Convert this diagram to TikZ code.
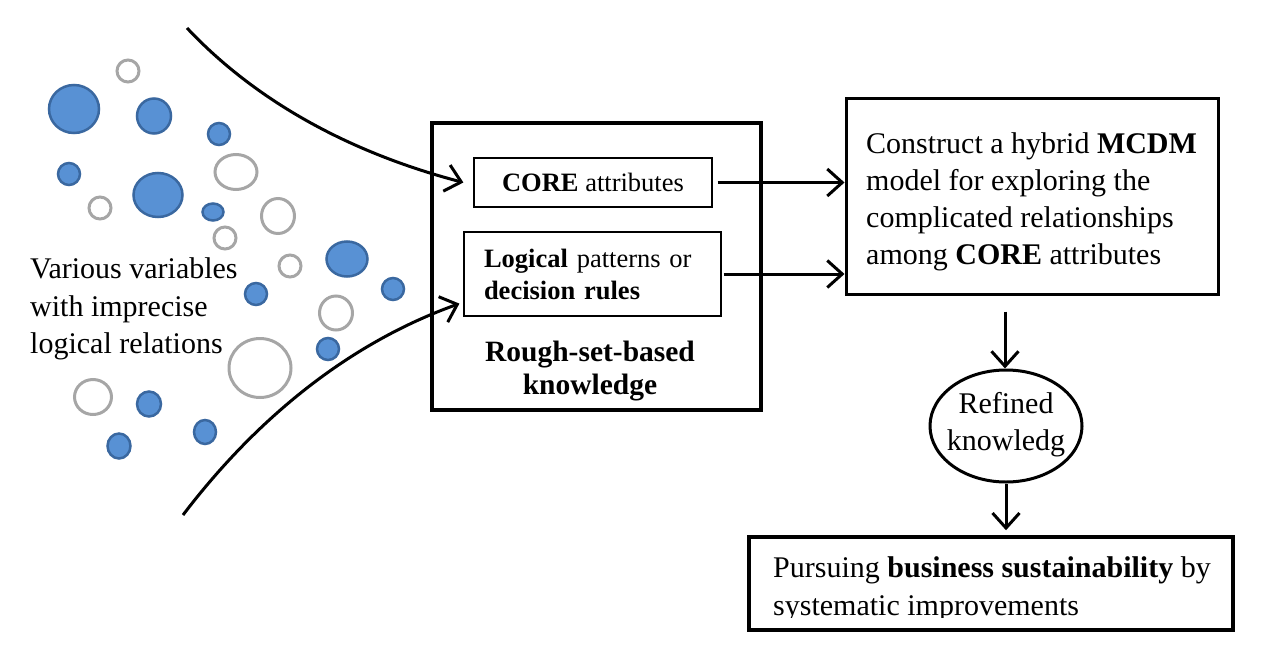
\documentclass[tikz,border=0pt]{standalone}
\usepackage{fontspec}
\setmainfont{Liberation Serif}
\usetikzlibrary{arrows.meta,shapes.geometric,calc}
\definecolor{bfill}{RGB}{88,145,212}
\definecolor{bdraw}{RGB}{58,104,160}
\definecolor{gring}{RGB}{166,166,166}
\tikzset{
  bdot/.style={draw=bdraw,fill=bfill,line width=2.5pt},
  gdot/.style={draw=gring,line width=3pt},
  thickbox/.style={draw,line width=3.5pt,inner sep=0pt},
  thinbox/.style={draw,line width=1.2pt,inner sep=0pt},
  flow/.style={line width=3pt,-{Straight Barb[length=15pt,width=27pt,line width=3pt]}},
  bigtext/.style={font=\fontsize{30}{37.5}\selectfont,align=left,inner sep=0pt},
}
\begin{document}
\begin{tikzpicture}[x=1pt,y=-1pt]
\useasboundingbox (0,0) rectangle (1277,656);
% blue dots
\draw[bdot] (74,109) ellipse [x radius=25, y radius=24];
\draw[bdot] (154,116) ellipse [x radius=17, y radius=17.5];
\draw[bdot] (219,134) circle [radius=11];
\draw[bdot] (69,174) circle [radius=11];
\draw[bdot] (158,195) ellipse [x radius=24.5, y radius=22];
\draw[bdot] (213,212) ellipse [x radius=10.5, y radius=8.5];
\draw[bdot] (347,259) ellipse [x radius=20.5, y radius=17.5];
\draw[bdot] (256,294) circle [radius=11];
\draw[bdot] (393,289) circle [radius=11];
\draw[bdot] (328,349) circle [radius=11];
\draw[bdot] (149,404) ellipse [x radius=12, y radius=12.5];
\draw[bdot] (119,446) ellipse [x radius=11.5, y radius=12.5];
\draw[bdot] (205,432) ellipse [x radius=11, y radius=12];
% grey rings
\draw[gdot] (128,71) circle [radius=11];
\draw[gdot] (236,172) ellipse [x radius=21, y radius=17.5];
\draw[gdot] (100,208) circle [radius=11];
\draw[gdot] (278,216) ellipse [x radius=16.5, y radius=17.5];
\draw[gdot] (225,238) circle [radius=11];
\draw[gdot] (290,266) circle [radius=11];
\draw[gdot] (336,313) ellipse [x radius=16.5, y radius=17];
\draw[gdot] (260,368) ellipse [x radius=31, y radius=29.5];
\draw[gdot] (93,397) ellipse [x radius=18.5, y radius=17.5];
% left label
\node[bigtext,anchor=base west] (vars) at (30,278) {Various variables};
\node[bigtext,anchor=base west] (vars2) at (30,316) {with imprecise};
\node[bigtext,anchor=base west] (vars3) at (30,353) {logical relations};
% rough set box
\node[thickbox,minimum width=329,minimum height=287] (rough) at (596.5,266.5) {};
\node[thinbox,minimum width=238,minimum height=49,font=\fontsize{26.5}{25}\selectfont] (core) at (593,182.5) {\textbf{CORE} attributes};
\node[thinbox,minimum width=257,minimum height=84,align=left,text width=217,inner xsep=20pt,font=\fontsize{26.5}{32}\selectfont] (logical) at (592.5,274) {\textbf{Logical} patterns or\\\textbf{decision rules}};
\node[align=center,inner sep=0pt,font=\fontsize{29.5}{33}\selectfont\bfseries] (rlabel) at (590,371) {Rough-set-based\\knowledge};
% MCDM
\node[draw,line width=3pt,minimum width=372,minimum height=196,inner sep=0pt] (mcdm) at (1032,196) {};
\node[bigtext,anchor=base west] (m1) at (866,153) {Construct a hybrid \textbf{MCDM}};
\node[bigtext,anchor=base west] (m2) at (866,190) {model for exploring the};
\node[bigtext,anchor=base west] (m3) at (866,227) {complicated relationships};
\node[bigtext,anchor=base west] (m4) at (866,264) {among \textbf{CORE} attributes};
% ellipse
\node[draw,ellipse,line width=3pt,minimum width=152,minimum height=112,inner sep=0pt] (refined) at (1006,426) {};
\node[inner sep=0pt,align=center,font=\fontsize{30}{37}\selectfont] (rtext) at (1006,425) {Refined\\knowledg};
% bottom box
\node[thickbox,minimum width=484,minimum height=93] (goal) at (991,583.5) {};
\begin{scope}
\clip (749,537) rectangle (1233,617);
\node[bigtext,anchor=base west] (gtext) at (773,577) {Pursuing \textbf{business sustainability} by};
\node[bigtext,anchor=base west] (gtext2) at (773,615) {systematic improvements};
\end{scope}
% funnel curves
\coordinate (ftop) at (187,28);
\coordinate (fbot) at (183,515);
\draw[flow] (ftop) .. controls (250,95) and (340,150) .. ([xshift=-10pt]core.west);
\draw[flow] (fbot) .. controls (240,440) and (330,350) .. ($(logical.south west)+(-4,-13)$);
% arrows
\draw[flow] ([xshift=5pt]core.east) -- (core.east -| mcdm.west);
\draw[flow] ([xshift=2pt]logical.east) -- (logical.east -| mcdm.west);
\coordinate (mdown) at ($(mcdm.south)+(-27,16)$);
\draw[flow] (mdown) -- (mdown |- refined.north);
\draw[flow] (refined.south) -- ($(refined.south |- goal.north)+(0,-5)$);
\end{tikzpicture}
\end{document}
